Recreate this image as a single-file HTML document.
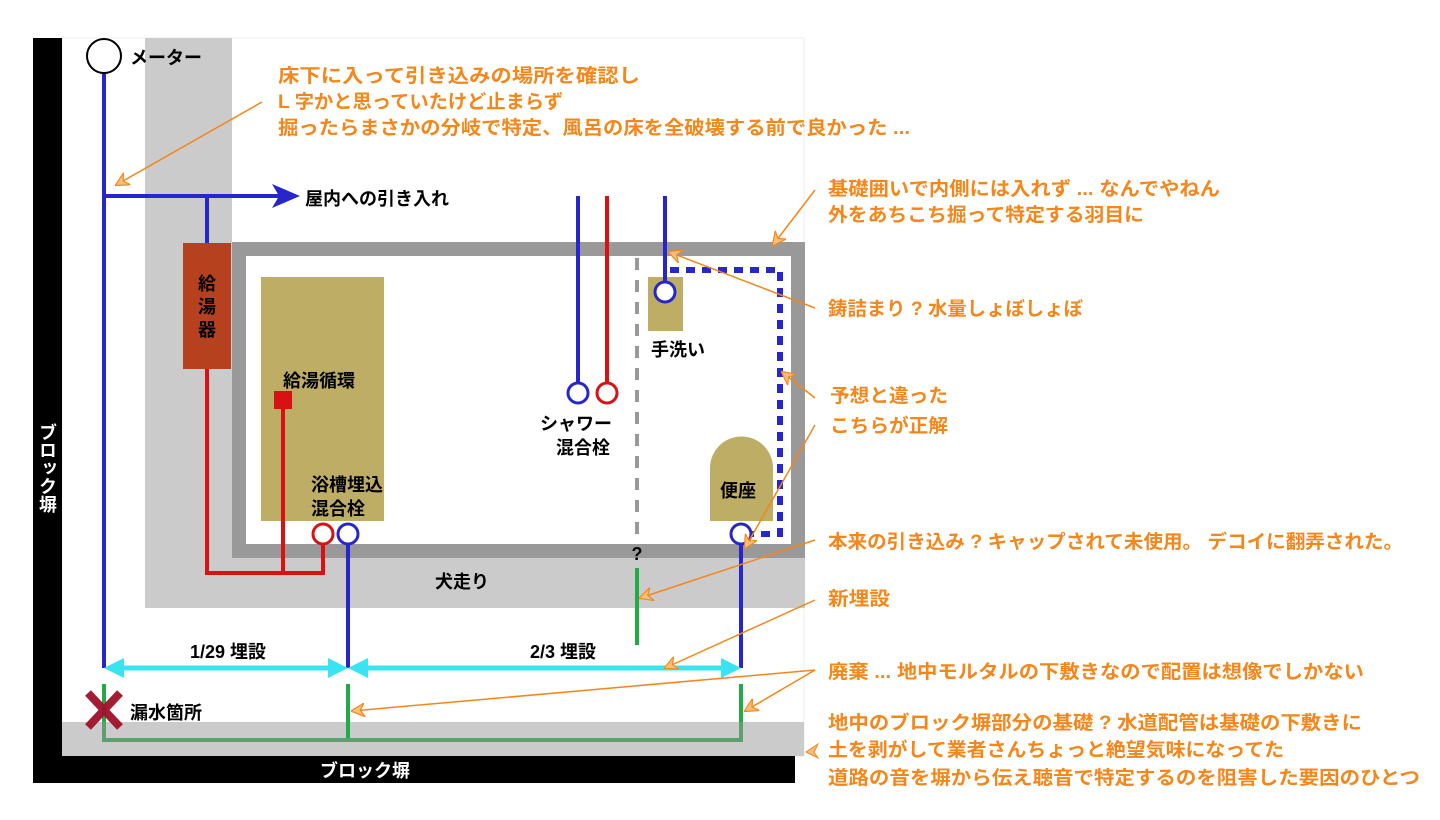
<!DOCTYPE html>
<html><head><meta charset="utf-8"><style>
html,body{margin:0;padding:0;background:#fff;}
svg{display:block;}
text{font-family:"Liberation Sans","Noto Sans CJK JP",sans-serif;font-weight:bold;}
.o{fill:#f5861a;font-size:19px;}
.k{fill:#000;font-size:18px;}
</style></head><body>
<svg width="1440" height="820" viewBox="0 0 1440 820" xmlns="http://www.w3.org/2000/svg">
<defs>
<marker id="oa" viewBox="0 0 12 12" refX="11" refY="6" markerWidth="14" markerHeight="14" orient="auto" markerUnits="userSpaceOnUse">
<path d="M0,0 L12,6 L0,12 L4,6 Z" fill="#fbbf7a" stroke="#f5861a" stroke-width="1"/>
</marker>
</defs>
<!-- light background area -->
<rect x="62" y="38" width="742" height="718" fill="#fff" stroke="#eee"/>
<!-- gray band -->
<rect x="145" y="38" width="87" height="570" fill="#cbcbcb"/>
<rect x="145" y="544" width="660" height="64" fill="#cbcbcb"/>
<rect x="62" y="722" width="742" height="34" fill="#cbcbcb"/>
<!-- foundation -->
<rect x="239" y="249" width="559" height="302" fill="#fff" stroke="#999" stroke-width="14"/>
<!-- block walls -->
<rect x="33" y="38" width="29" height="745" fill="#000"/>
<rect x="33" y="756" width="762" height="27" fill="#000"/>
<text x="47" y="423" fill="#fff" font-size="18" style="writing-mode:vertical-rl" text-anchor="start">ブロック塀</text>
<text x="365" y="777" fill="#fff" font-size="18" text-anchor="middle">ブロック塀</text>

<!-- tan objects -->
<rect x="261" y="277" width="123" height="244" fill="#bdad65"/>
<rect x="648" y="277" width="35" height="54" fill="#bdad65"/>
<path d="M710,521 L710,468 A31.5,31.5 0 0 1 773,468 L773,521 Z" fill="#bdad65"/>

<!-- water heater -->
<rect x="183" y="243" width="48" height="126" fill="#b5411e"/>
<text x="207" y="290" class="k" text-anchor="middle">給</text>
<text x="207" y="313" class="k" text-anchor="middle">湯</text>
<text x="207" y="336" class="k" text-anchor="middle">器</text>

<!-- red pipes -->
<polyline points="207,369 207,573 323,573 323,544" fill="none" stroke="#d81212" stroke-width="4"/>
<line x1="283" y1="405" x2="283" y2="573" stroke="#d81212" stroke-width="4"/>
<rect x="274" y="391" width="18" height="18" fill="#d81212"/>
<line x1="607" y1="196" x2="607" y2="383" stroke="#d81212" stroke-width="4"/>

<!-- blue pipes -->
<line x1="104" y1="73" x2="104" y2="668" stroke="#2626cc" stroke-width="4"/>
<line x1="104" y1="196" x2="280" y2="196" stroke="#2626cc" stroke-width="4"/>
<path d="M272,184 L300,196 L272,208 L279,196 Z" fill="#2626cc"/>
<line x1="207" y1="196" x2="207" y2="243" stroke="#2626cc" stroke-width="4"/>
<line x1="348" y1="544" x2="348" y2="668" stroke="#2626cc" stroke-width="4"/>
<line x1="578" y1="196" x2="578" y2="383" stroke="#2626cc" stroke-width="4"/>
<line x1="665" y1="196" x2="665" y2="282" stroke="#2626cc" stroke-width="4"/>
<line x1="741" y1="544" x2="741" y2="668" stroke="#2626cc" stroke-width="4"/>

<!-- dotted blue route -->
<polyline points="670,270 780,270 780,534 752,534" fill="none" stroke="#2626cc" stroke-width="6" stroke-dasharray="9,7"/>
<!-- gray dashed -->
<line x1="637" y1="258" x2="637" y2="540" stroke="#999" stroke-width="4" stroke-dasharray="12,10"/>
<text x="637" y="560" class="k" text-anchor="middle" font-size="16">?</text>
<line x1="637" y1="568" x2="637" y2="645" stroke="#22aa44" stroke-width="4"/>

<!-- circles -->
<circle cx="104" cy="56" r="17" fill="#fff" stroke="#000" stroke-width="2"/>
<circle cx="323" cy="534" r="10" fill="#fff" stroke="#d81212" stroke-width="3"/>
<circle cx="348" cy="534" r="10" fill="#fff" stroke="#2626cc" stroke-width="3"/>
<circle cx="578" cy="393" r="10" fill="#fff" stroke="#2626cc" stroke-width="3"/>
<circle cx="607" cy="393" r="10" fill="#fff" stroke="#d81212" stroke-width="3"/>
<circle cx="665" cy="292" r="10" fill="#fff" stroke="#2626cc" stroke-width="3"/>
<circle cx="741" cy="534" r="10" fill="#fff" stroke="#2626cc" stroke-width="3"/>

<!-- cyan arrows -->
<line x1="114" y1="668" x2="338" y2="668" stroke="#3ae3f0" stroke-width="5"/>
<path d="M104,668 L124,658 L124,678 Z M348,668 L328,658 L328,678 Z" fill="#3ae3f0"/>
<line x1="358" y1="668" x2="731" y2="668" stroke="#3ae3f0" stroke-width="5"/>
<path d="M348,668 L368,658 L368,678 Z M741,668 L721,658 L721,678 Z" fill="#3ae3f0"/>

<!-- green -->
<line x1="104" y1="684" x2="104" y2="740" stroke="#22aa44" stroke-width="4"/>
<line x1="348" y1="684" x2="348" y2="740" stroke="#22aa44" stroke-width="4"/>
<line x1="741" y1="684" x2="741" y2="740" stroke="#22aa44" stroke-width="4"/>
<polyline points="104,722 104,740 741,740 741,722" fill="none" stroke="#5f9e6e" stroke-width="4"/>
<!-- red X -->
<g stroke="#a0102a" stroke-width="8" opacity="0.95"><line x1="88" y1="693" x2="120" y2="727"/><line x1="120" y1="693" x2="88" y2="727"/></g>

<!-- black labels -->
<text x="130" y="64" class="k">メーター</text>
<text x="305" y="205" class="k">屋内への引き入れ</text>
<text x="283" y="387" class="k">給湯循環</text>
<text x="311" y="491" class="k">浴槽埋込</text>
<text x="311" y="515" class="k">混合栓</text>
<text x="540" y="430" class="k">シャワー</text>
<text x="556" y="454" class="k">混合栓</text>
<text x="651" y="356" class="k">手洗い</text>
<text x="720" y="497" class="k">便座</text>
<text x="435" y="588" class="k">犬走り</text>
<text x="190" y="658" class="k">1/29 埋設</text>
<text x="530" y="658" class="k">2/3 埋設</text>
<text x="130" y="719" class="k">漏水箇所</text>

<!-- orange leaders -->
<g stroke="#f5861a" stroke-width="1.5" fill="none" marker-end="url(#oa)">
<line x1="262" y1="102" x2="116" y2="185"/>
<line x1="815" y1="190" x2="773" y2="245"/>
<line x1="815" y1="308" x2="669" y2="252"/>
<line x1="815" y1="398" x2="782" y2="372"/>
<line x1="815" y1="425" x2="745" y2="548"/>
<line x1="815" y1="540" x2="640" y2="598"/>
<line x1="815" y1="600" x2="665" y2="668"/>
<line x1="815" y1="670" x2="352" y2="711"/>
<line x1="815" y1="670" x2="745" y2="711"/>
</g>
<path d="M818,744 L806,752 L818,758 L814,752 Z" fill="#fbbf7a" stroke="#f5861a"/>

<!-- orange texts -->
<text x="278" y="82" class="o" textLength="362" lengthAdjust="spacingAndGlyphs">床下に入って引き込みの場所を確認し</text>
<text x="278" y="108" class="o" textLength="285" lengthAdjust="spacingAndGlyphs">L 字かと思っていたけど止まらず</text>
<text x="278" y="134" class="o" textLength="632" lengthAdjust="spacingAndGlyphs">掘ったらまさかの分岐で特定、風呂の床を全破壊する前で良かった ...</text>
<text x="828" y="195" class="o" textLength="392" lengthAdjust="spacingAndGlyphs">基礎囲いで内側には入れず ... なんでやねん</text>
<text x="828" y="221" class="o" textLength="316" lengthAdjust="spacingAndGlyphs">外をあちこち掘って特定する羽目に</text>
<text x="828" y="315" class="o" textLength="255" lengthAdjust="spacingAndGlyphs">鋳詰まり ? 水量しょぼしょぼ</text>
<text x="830" y="402" class="o" textLength="118" lengthAdjust="spacingAndGlyphs">予想と違った</text>
<text x="830" y="432" class="o" textLength="118" lengthAdjust="spacingAndGlyphs">こちらが正解</text>
<text x="828" y="548" class="o" textLength="575" lengthAdjust="spacingAndGlyphs">本来の引き込み ? キャップされて未使用。 デコイに翻弄された。</text>
<text x="828" y="605" class="o" textLength="62" lengthAdjust="spacingAndGlyphs">新埋設</text>
<text x="828" y="678" class="o" textLength="536" lengthAdjust="spacingAndGlyphs">廃棄 ... 地中モルタルの下敷きなので配置は想像でしかない</text>
<text x="828" y="729" class="o" textLength="534" lengthAdjust="spacingAndGlyphs">地中のブロック塀部分の基礎 ? 水道配管は基礎の下敷きに</text>
<text x="828" y="756" class="o" textLength="456" lengthAdjust="spacingAndGlyphs">土を剥がして業者さんちょっと絶望気味になってた</text>
<text x="828" y="784" class="o" textLength="592" lengthAdjust="spacingAndGlyphs">道路の音を塀から伝え聴音で特定するのを阻害した要因のひとつ</text>
</svg>
</body></html>
